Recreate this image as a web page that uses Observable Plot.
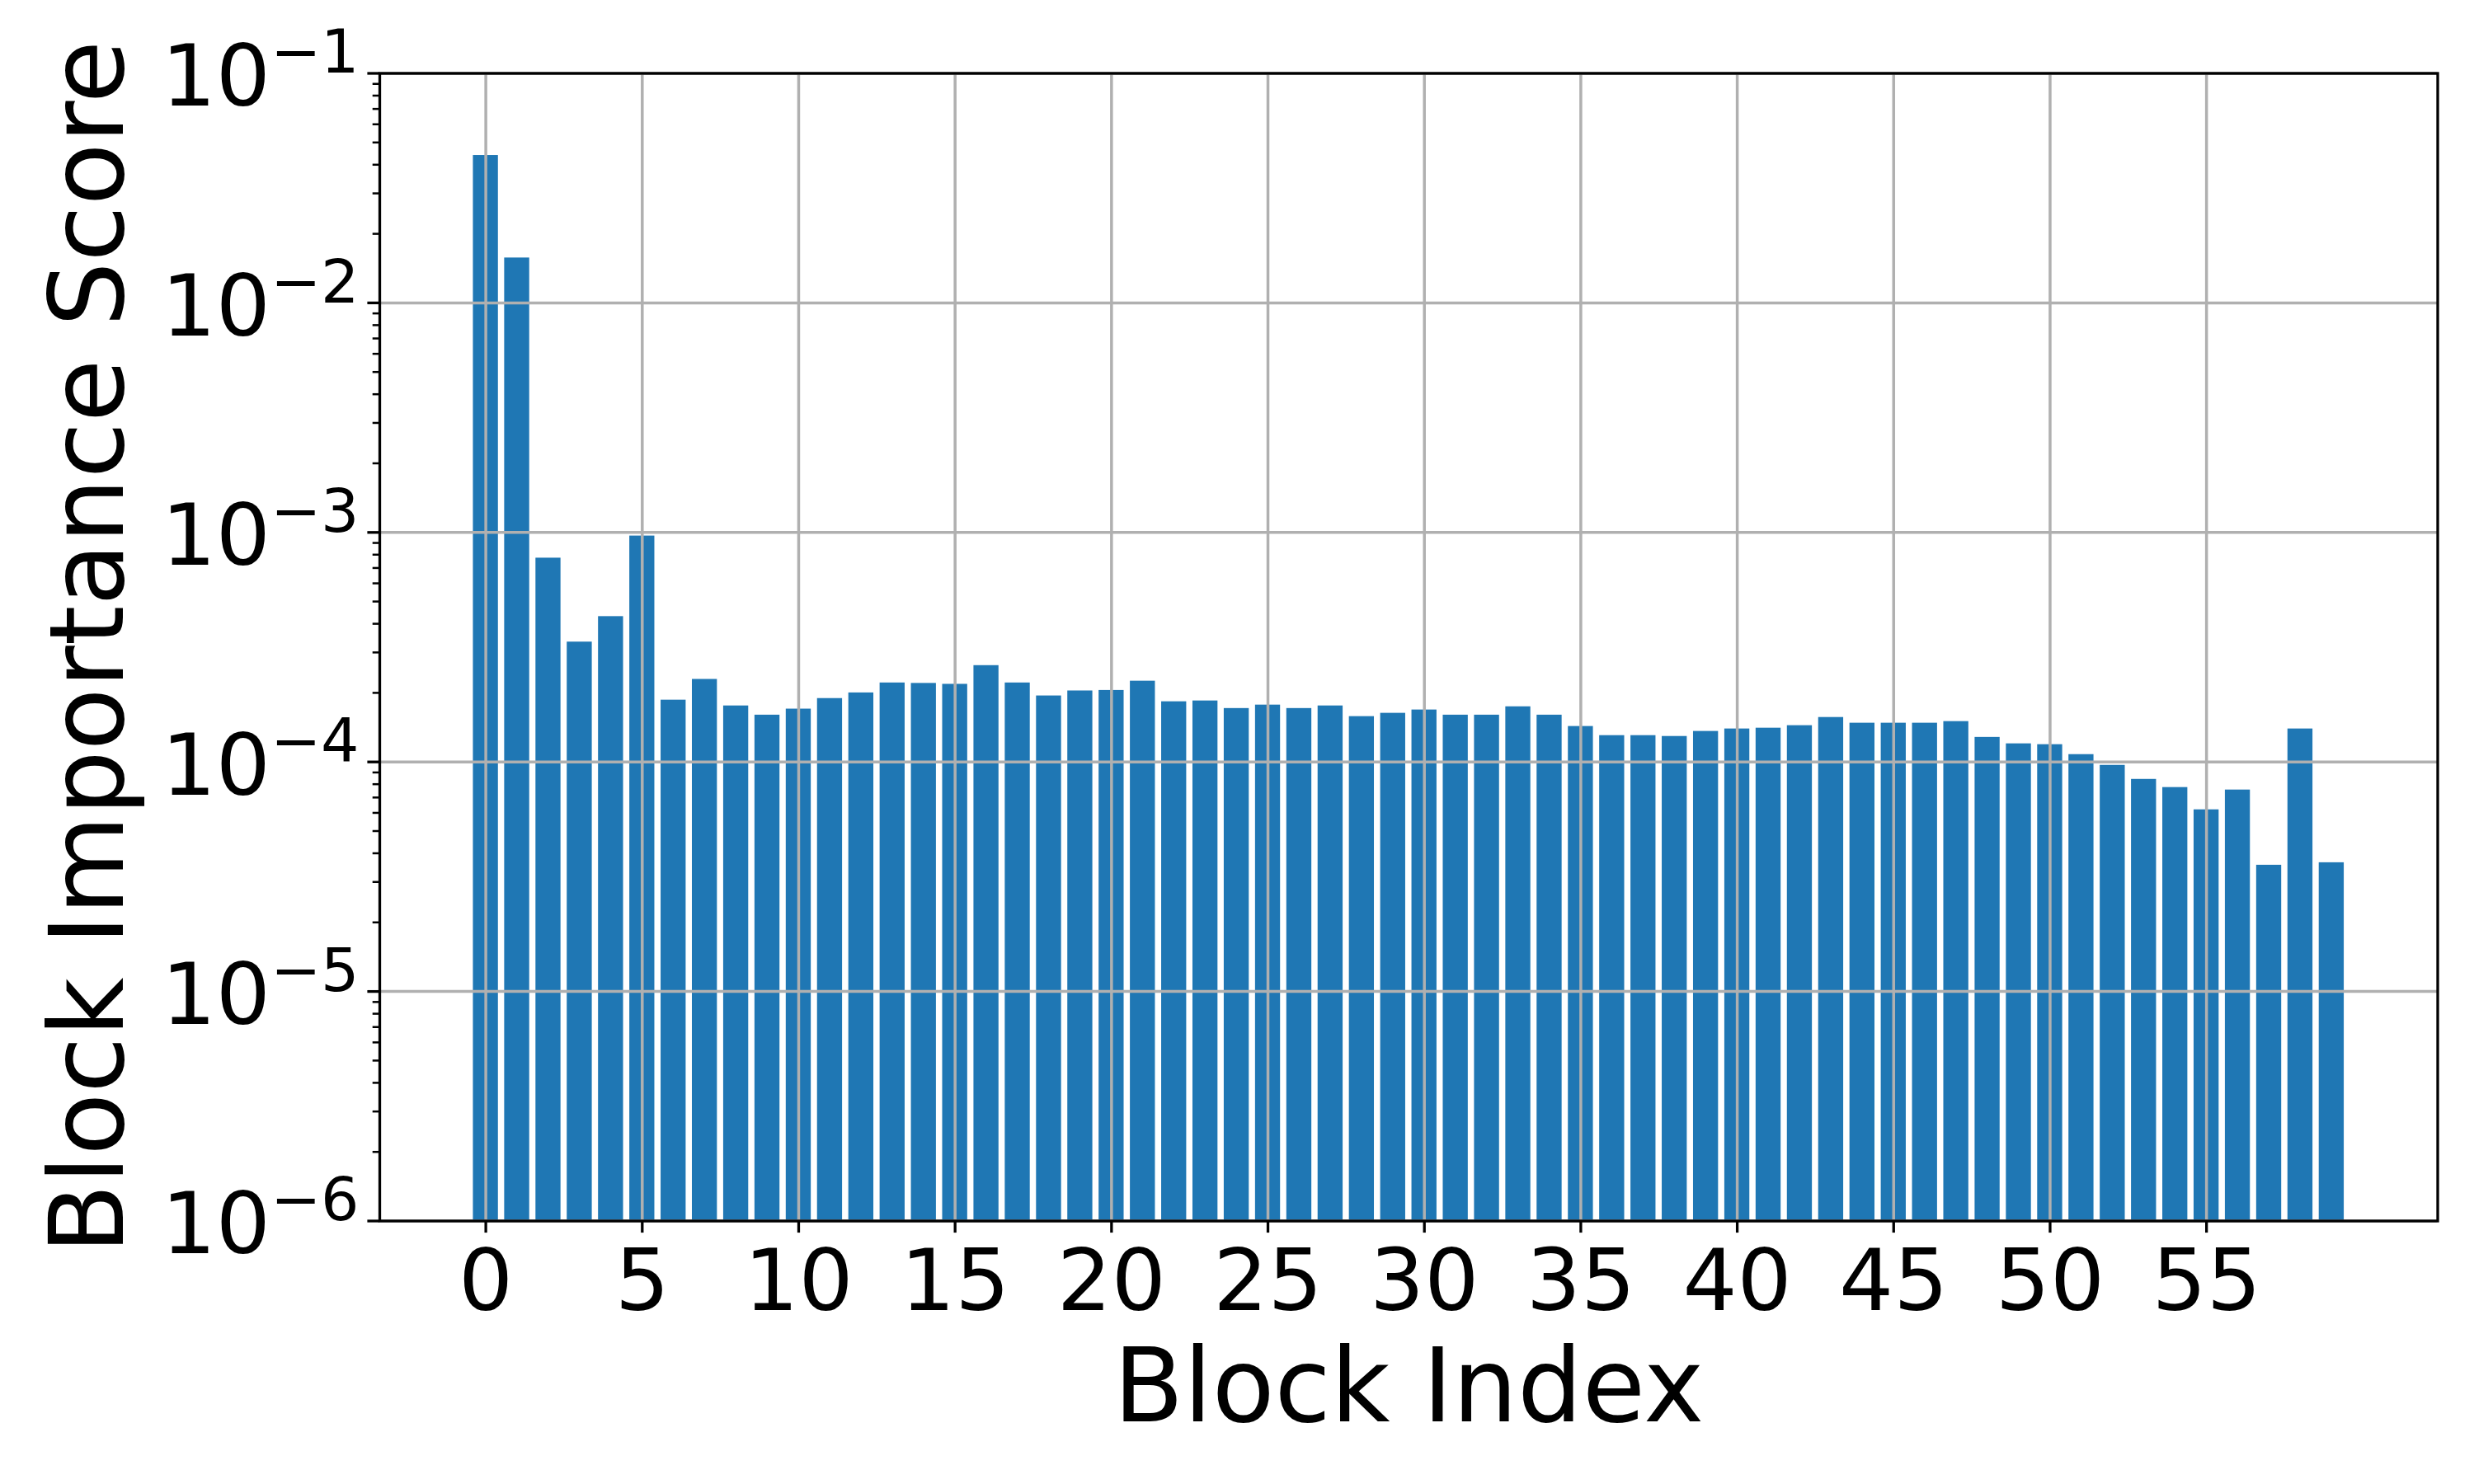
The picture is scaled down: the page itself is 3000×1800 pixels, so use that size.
<!DOCTYPE html>
<html>
<head>
<meta charset="utf-8">
<script src="https://cdn.jsdelivr.net/npm/d3@7"></script>
<script src="https://cdn.jsdelivr.net/npm/@observablehq/plot@0.6"></script>
<style>
  html, body { margin: 0; padding: 0; background: #ffffff; }
  #chart svg { display: block; }
</style>
</head>
<body>
<div id="chart"></div>
<script>
// ---- data ----
const blockIndex = d3.range(60);
const importanceScore = [
  0.0439, 0.0157, 7.73e-4, 3.33e-4, 4.30e-4, 9.65e-4, 1.86e-4, 2.29e-4, 1.755e-4, 1.60e-4,
  1.70e-4, 1.89e-4, 2.00e-4, 2.21e-4, 2.20e-4, 2.18e-4, 2.63e-4, 2.21e-4, 1.94e-4, 2.04e-4,
  2.05e-4, 2.25e-4, 1.83e-4, 1.845e-4, 1.71e-4, 1.77e-4, 1.71e-4, 1.755e-4, 1.577e-4, 1.63e-4,
  1.685e-4, 1.60e-4, 1.60e-4, 1.74e-4, 1.60e-4, 1.428e-4, 1.303e-4, 1.303e-4, 1.292e-4, 1.359e-4,
  1.393e-4, 1.404e-4, 1.44e-4, 1.563e-4, 1.476e-4, 1.476e-4, 1.476e-4, 1.50e-4, 1.28e-4, 1.20e-4,
  1.19e-4, 1.077e-4, 9.67e-5, 8.4e-5, 7.74e-5, 6.19e-5, 7.55e-5, 3.55e-5, 1.393e-4, 3.64e-5
];
const xTicks = [0, 5, 10, 15, 20, 25, 30, 35, 40, 45, 50, 55];
const yExponents = [-6, -5, -4, -3, -2, -1];
const minorMultipliers = [2, 3, 4, 5, 6, 7, 8, 9];
const xLabel = "Block Index";
const yLabel = "Block Importance Score";

// ---- derived tables ----
const bars = blockIndex.map((i) => ({ i, v: importanceScore[i] }));
const yMajor = yExponents.map((e) => Math.pow(10, e));
const yMinor = [];
yExponents.slice(0, -1).forEach((e) => minorMultipliers.forEach((m) => yMinor.push(m * Math.pow(10, e))));
const yLabels = yExponents.map((e) => ({ y: Math.pow(10, e), base: "10", exp: "\u2212" + Math.abs(e) }));

const FONT = "DejaVu Sans";
const TICK_FS = 104;
const LABEL_FS = 124;

const chart = Plot.plot({
  width: 3000,
  height: 1800,
  marginLeft: 460,
  marginRight: 44.5,
  marginTop: 88.5,
  marginBottom: 319.5,
  style: { fontFamily: FONT, fontSize: TICK_FS + "px", background: "#ffffff", color: "#000000" },
  x: { type: "linear", domain: [-3.39, 62.39], axis: null },
  y: { type: "log", domain: [1e-6, 0.1], axis: null },
  marks: [
    Plot.rectY(bars, {
      x1: (d) => d.i - 0.4,
      x2: (d) => d.i + 0.4,
      y1: 1e-6,
      y2: "v",
      fill: "#1f77b4",
      clip: true
    }),
    Plot.gridX({ ticks: xTicks, stroke: "#b0b0b0", strokeOpacity: 1, strokeWidth: 3.5 }),
    Plot.gridY({ ticks: yMajor, stroke: "#b0b0b0", strokeOpacity: 1, strokeWidth: 3.5 }),
    Plot.frame({ stroke: "#000000", strokeWidth: 3.3 }),
    // x axis ticks + labels
    Plot.axisX({
      ticks: xTicks,
      tickSize: 14.6,
      tickPadding: 20,
      strokeWidth: 3.3,
      stroke: "#000000",
      fill: "#000000",
      fontSize: TICK_FS,
      fontFamily: FONT,
      tickFormat: (d) => String(d),
      label: null
    }),
    // y axis major ticks
    Plot.axisY({ ticks: yMajor, tickSize: 14.6, strokeWidth: 3.3, stroke: "#000000", fill: "none", label: null }),
    // y axis minor ticks
    Plot.axisY({ ticks: yMinor, tickSize: 8.3, strokeWidth: 2.5, stroke: "#000000", fill: "none", label: null }),
    // y tick labels: 10 with superscript exponent
    Plot.text(yLabels, {
      y: "y",
      text: "base",
      frameAnchor: "left",
      textAnchor: "end",
      lineAnchor: "bottom",
      dx: -132.5,
      dy: 39.3,
      fontSize: TICK_FS,
      fontFamily: FONT,
      fill: "#000000"
    }),
    Plot.text(yLabels, {
      y: "y",
      text: "exp",
      frameAnchor: "left",
      textAnchor: "end",
      lineAnchor: "bottom",
      dx: -25,
      dy: -0.7,
      fontSize: 73,
      fontFamily: FONT,
      fill: "#000000"
    }),
    // axis titles
    Plot.text([xLabel], {
      frameAnchor: "bottom",
      textAnchor: "middle",
      lineAnchor: "bottom",
      dy: 242.5,
      fontSize: LABEL_FS,
      fontFamily: FONT,
      fill: "#000000"
    }),
    Plot.text([yLabel], {
      frameAnchor: "left",
      textAnchor: "middle",
      rotate: -90,
      lineAnchor: "bottom",
      dx: -312,
      fontSize: LABEL_FS,
      fontFamily: FONT,
      fill: "#000000"
    })
  ]
});
document.getElementById("chart").appendChild(chart);
</script>
</body>
</html>
